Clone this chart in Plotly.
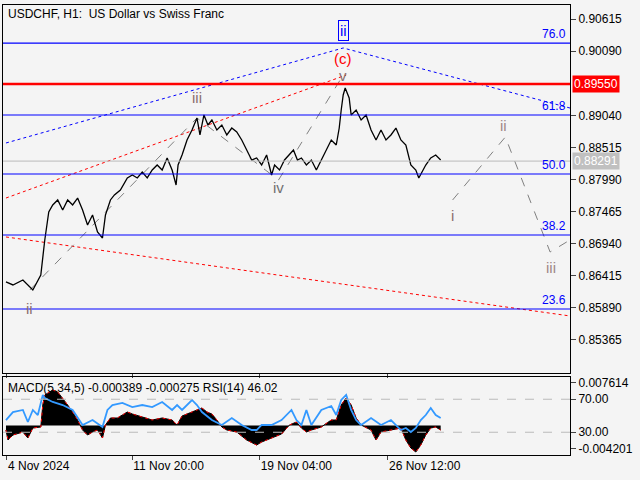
import plotly.graph_objects as go
from plotly.subplots import make_subplots

# ---- data (bar index ~ position) ----
def P(y):  # helper: screen-read level to price
    return round(0.90615 - (y - 19) * 0.00016355, 5)

price_x = [3,10,20,30,38,42,46,50,55,60,65,70,75,80,85,90,95,100,103,108,112,118,125,130,135,140,145,150,155,160,165,170,174,176,180,185,190,195,198,202,206,210,215,220,225,230,235,240,245,250,255,260,265,270,273,278,283,288,292,296,300,305,310,315,320,325,330,335,338,340,342,344,348,350,355,360,365,370,375,380,385,390,395,400,405,410,415,418,422,425,430,435,440]
price_py = [282,285,280,290,275,240,212,205,200,210,200,205,198,210,225,215,232,238,215,200,195,190,178,175,178,172,178,170,165,170,158,170,185,165,155,140,130,118,135,115,125,120,130,125,135,128,132,140,150,160,158,165,155,175,165,170,160,155,150,160,158,165,160,170,160,150,140,145,128,110,95,88,98,115,110,120,115,130,140,130,140,135,128,140,145,165,170,178,170,165,158,155,160]
price = [P(v) for v in price_py]

macd_x = [3,5,10,20,25,30,38,40,42,50,55,60,65,70,75,80,85,90,95,100,103,108,115,120,125,130,140,150,160,170,175,180,190,200,205,210,215,220,225,235,245,255,260,270,280,288,295,300,305,310,320,330,335,340,345,350,355,360,370,375,380,390,400,405,410,415,420,425,430,435,440]
macd_py = [430,440,435,432,438,428,427,405,395,390,392,398,405,412,420,430,435,432,430,438,425,418,418,415,412,414,417,420,418,420,425,416,412,408,412,414,420,427,430,432,440,445,442,438,434,425,422,428,432,430,427,420,420,405,398,405,418,425,430,440,432,430,428,440,448,452,445,435,428,427,430]
macd = [round((425.5 - v) * 0.000179, 6) for v in macd_py]

rsi_x = [3,10,20,25,30,35,40,42,50,60,70,80,90,100,105,110,120,130,140,150,160,170,175,180,190,195,200,210,220,230,240,250,255,260,270,280,290,295,300,305,310,320,330,335,340,345,350,355,360,370,380,390,400,405,410,415,420,425,430,435,440]
rsi_py = [420,412,410,422,410,415,395,398,402,405,410,425,420,427,410,405,403,407,405,407,402,410,405,410,400,405,412,420,425,418,425,430,430,425,425,420,410,420,425,410,425,410,406,415,400,395,410,420,425,418,425,420,430,428,432,428,420,415,408,415,418]
rsi = [round((457 - v) / 0.825, 1) for v in rsi_py]

fib_levels = [43, 115, 174, 235, 309]
fib_labels = ["76.0", "61.8", "50.0", "38.2", "23.6"]
main_ticks = [0.90615, 0.90090, 0.89040, 0.88515, 0.87990, 0.87465, 0.86940, 0.86415, 0.85890, 0.85365]
date_pos = [4, 130, 258, 387]
date_labels = ["4 Nov 2024", "11 Nov 20:00", "19 Nov 04:00", "26 Nov 12:00"]

# ---- figure ----
H = 450.0
fig = make_subplots(rows=2, cols=1, shared_xaxes=True, vertical_spacing=0,
                    row_heights=[0.82, 0.18],
                    specs=[[{}], [{"secondary_y": True}]])
F = dict(family="Liberation Sans, Arial", size=12, color="black")

fig.add_trace(go.Scatter(x=[3, 342, 570], y=[P(143), P(48), P(108)], mode="lines",
                         line=dict(color="blue", width=1, dash="dot"), hoverinfo="skip"), 1, 1)
fig.add_trace(go.Scatter(x=[3, 345], y=[P(198), P(75)], mode="lines",
                         line=dict(color="red", width=1, dash="dot"), hoverinfo="skip"), 1, 1)
fig.add_trace(go.Scatter(x=[3, 570], y=[P(237), P(316)], mode="lines",
                         line=dict(color="red", width=1, dash="dot"), hoverinfo="skip"), 1, 1)
fig.add_trace(go.Scatter(x=[27, 195, 277, 342], y=[P(290), P(118), P(180), P(75)], mode="lines",
                         line=dict(color="gray", width=1, dash="dash"), hoverinfo="skip"), 1, 1)
fig.add_trace(go.Scatter(x=[452, 505, 550, 570], y=[P(200), P(137), P(252), P(240)], mode="lines",
                         line=dict(color="gray", width=1, dash="dash"), hoverinfo="skip"), 1, 1)

for lv, lb in zip(fib_levels, fib_labels):
    fig.add_hline(y=P(lv), line=dict(color="blue", width=1.2), row=1, col=1)
    fig.add_annotation(x=568, y=P(lv), text=lb, showarrow=False, xanchor="right", yanchor="bottom",
                       font=dict(family=F["family"], size=12, color="blue"), row=1, col=1)
fig.add_hline(y=0.8955, line=dict(color="red", width=2.5), row=1, col=1)
fig.add_hline(y=0.88291, line=dict(color="#bbbbbb", width=1), row=1, col=1)

fig.add_trace(go.Scatter(x=price_x, y=price, mode="lines", line=dict(color="black", width=1.3),
                         hoverinfo="skip"), 1, 1)

labels = [(342, 58, "(c)", "red"), (342, 76, "v", "#8b6f6f"),
          (195, 98, "iii", "#8b6f6f"), (277, 187, "iv", "#707070"), (27, 309, "ii", "#8b6f6f"),
          (452, 215, "i", "#8b6f6f"), (503, 125, "ii", "#a08888"), (551, 268, "iii", "#a08888")]
fig.add_annotation(x=342, y=P(30), text="ii", showarrow=False, font=dict(family=F["family"], size=15, color="blue"),
                   bordercolor="blue", borderwidth=1, borderpad=1, row=1, col=1)
for x, y, t, c in labels:
    fig.add_annotation(x=x, y=P(y), text=t, showarrow=False, font=dict(family=F["family"], size=15, color=c), row=1, col=1)

fig.add_trace(go.Scatter(x=macd_x, y=macd, mode="lines", fill="tozeroy", fillcolor="black",
                         line=dict(color="black", width=1), hoverinfo="skip"), 2, 1)
fig.add_trace(go.Scatter(x=macd_x, y=macd, mode="lines", line=dict(color="red", width=1, dash="dot"),
                         hoverinfo="skip"), 2, 1)
fig.add_trace(go.Scatter(x=rsi_x, y=rsi, mode="lines", line=dict(color="#3399ff", width=1.8),
                         hoverinfo="skip"), 2, 1, secondary_y=True)
for lv in [70, 30]:
    fig.add_hline(y=lv, line=dict(color="#bbbbbb", width=1, dash="dash"), row=2, col=1, secondary_y=True)

m_top = (425.5 - 377) * 0.000179
m_bot = (425.5 - 455) * 0.000179
r_top = (457 - 377) / 0.825
r_bot = (457 - 455) / 0.825
def r2m(r):
    return m_bot + (r - r_bot) / (r_top - r_bot) * (m_top - m_bot)

fig.update_layout(
    width=640, height=480, showlegend=False,
    margin=dict(l=3, r=70, t=5, b=25, autoexpand=False),
    paper_bgcolor="#f4f4f4", plot_bgcolor="#f4f4f4", font=F,
)
fig.update_xaxes(range=[0, 570], showgrid=False, zeroline=False, showline=True, linecolor="black",
                 mirror=True, tickvals=date_pos, ticktext=date_labels, ticks="outside", ticklen=4,
                 ticklabelposition="outside right", automargin=False, domain=[0, 1])
fig.update_xaxes(showticklabels=False, row=1, col=1)
fig.update_yaxes(row=1, col=1, range=[P(373), P(5)], side="right", tickvals=main_ticks,
                 tickformat=".5f", ticks="outside", ticklen=5, showgrid=False, zeroline=False,
                 showline=True, linecolor="black", mirror=True, automargin=False)
fig.update_yaxes(row=2, col=1, secondary_y=False, range=[m_bot, m_top], side="right",
                 tickvals=[0.007614, r2m(70), r2m(30), -0.004201],
                 ticktext=["0.007614", "70.00", "30.00", "-0.004201"],
                 ticks="outside", ticklen=5, showgrid=False, zeroline=False,
                 showline=True, linecolor="black", mirror=True, automargin=False)
fig.update_yaxes(row=2, col=1, secondary_y=True, range=[r_bot, r_top], showticklabels=False,
                 showgrid=False, zeroline=False, automargin=False)
fig.update_layout(yaxis=dict(domain=[82/H, 1]), yaxis2=dict(domain=[0, 78/H]), yaxis3=dict(domain=[0, 78/H]))

fig.add_annotation(xref="paper", yref="paper", x=0.005, y=1, text="USDCHF, H1:  US Dollar vs Swiss Franc",
                   showarrow=False, xanchor="left", yanchor="top", font=F)
fig.add_annotation(xref="paper", yref="paper", x=0.005, y=76/H, text="MACD(5,34,5) -0.000389 -0.000275 RSI(14) 46.02",
                   showarrow=False, xanchor="left", yanchor="top", font=F)
fig.add_annotation(xref="paper", x=1.003, y=0.8955, yref="y", text="0.89550", showarrow=False, xanchor="left",
                   bgcolor="red", font=dict(family=F["family"], size=12, color="white"))
fig.add_annotation(xref="paper", x=1.003, y=0.88291, yref="y", text="0.88291", showarrow=False, xanchor="left",
                   bgcolor="#c0c0c0", font=dict(family=F["family"], size=12, color="white"))

fig.write_html("out.html", config={"responsive": False, "displayModeBar": False},
               post_script="document.body.style.margin='0';document.body.style.overflow='hidden';")
